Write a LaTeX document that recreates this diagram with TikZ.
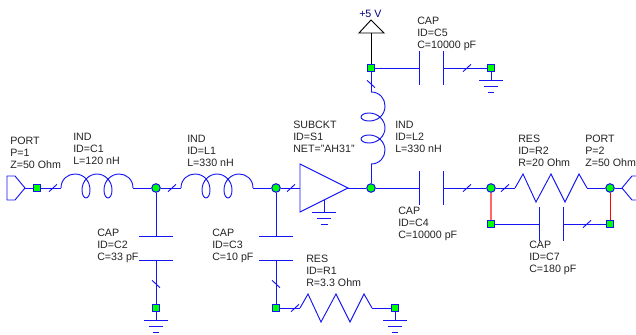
\documentclass[tikz,border=0pt]{standalone}
\usepackage{fontspec}
\setmainfont{Liberation Sans}
\definecolor{wireblue}{RGB}{20,20,245}
\definecolor{labelgray}{RGB}{35,35,35}
\tikzset{
  wire/.style={draw=wireblue, line width=0.7pt},
  stub/.style={draw=black, line width=0.7pt},
  jumper/.style={draw=red, line width=0.75pt},
  lbl/.style={anchor=west, align=left, inner sep=0pt, text=labelgray, font=\fontsize{8}{9}\selectfont},
  dot/.style={circle, draw=wireblue, fill=green, line width=0.8pt, minimum size=6.4pt, inner sep=0pt},
  sq/.style={rectangle, draw=wireblue, fill=green, line width=0.8pt, minimum size=5.8pt, inner sep=0pt},
  coil/.pic={
    \coordinate (-in) at (0,0);
    \coordinate (-out) at (72,0);
    \draw[wire] (0,0) .. controls (0,-9) and (7,-14) .. (14,-14)
      .. controls (23,-14) and (29,-7) .. (29,2)
      .. controls (29,7) and (27,10) .. (25,10)
      .. controls (23,10) and (21,7) .. (21,2)
      .. controls (21,-7) and (28,-14) .. (36,-14)
      .. controls (44,-14) and (51,-7) .. (51,2)
      .. controls (51,7) and (49,10) .. (47,10)
      .. controls (45,10) and (43,7) .. (43,2)
      .. controls (43,-7) and (50,-14) .. (58,-14)
      .. controls (65,-14) and (72,-9) .. (72,0);
  },
  zigzag/.pic={
    \coordinate (-in) at (0,0);
    \coordinate (-out) at (72,0);
    \draw[wire] (0,0) -- (8,-14) -- (21,14) -- (36,-14) -- (50,14) -- (64,-14) -- (72,0);
  },
  plates/.pic={
    \coordinate (-in) at (0,0);
    \coordinate (-out) at (24,0);
    \draw[wire] (0,-17) -- (0,17);
    \draw[wire] (24,-17) -- (24,17);
  },
  earth/.pic={
    \coordinate (-top) at (0,0);
    \draw[wire] (0,0) -- (0,12);
    \draw[wire] (-12,12) -- (12,12);
    \draw[wire] (-7,18) -- (7,18);
    \draw[wire] (-3,24) -- (3,24);
  }
}

\begin{document}
\begin{tikzpicture}[x=0.75pt,y=-0.75pt]
  \useasboundingbox (0,0) rectangle (636,335);

  % parts
  \pic (c1) at (61,188) {coil};
  \pic (l1) at (181,188) {coil};
  \pic[rotate=-90] (l2) at (371,92) {coil};
  \pic (r1) at (300,308) {zigzag};
  \pic (r2) at (515,188) {zigzag};
  \pic (c4) at (419,188) {plates};
  \pic (c5) at (419,68) {plates};
  \pic (c7) at (539,224) {plates};
  \pic[rotate=-90] (c2) at (156,236) {plates};
  \pic[rotate=-90] (c3) at (276,236) {plates};
  \pic at (156,308) {earth};
  \pic at (395,308) {earth};
  \pic at (491,68) {earth};

  % junctions
  \node[sq] (p1) at (37,188) {};
  \node[dot] (n1) at (156,188) {};
  \node[dot] (n2) at (276,188) {};
  \node[dot] (n3) at (371,188) {};
  \node[dot] (n4) at (491,188) {};
  \node[dot] (p2) at (610,188) {};
  \node[sq] (n5) at (491,224) {};
  \node[sq] (n6) at (610,224) {};
  \node[sq] (n7) at (371,68) {};
  \node[sq] (g1) at (491,68) {};
  \node[sq] (g2) at (156,308) {};
  \node[sq] (n8) at (276,308) {};
  \node[sq] (g3) at (395,308) {};

  % ports, amplifier, supply
  \coordinate (t1) at (25,188);
  \coordinate (t2) at (622,188);
  \coordinate (s1in) at (300,188);
  \coordinate (s1out) at (348,188);
  \coordinate (vcc) at (371,33);
  \draw[wire] (7,176) -- (15,176) -- (t1) -- (15,200) -- (7,200) -- cycle;
  \draw[wire] (642,176) -- (632,176) -- (t2) -- (632,200) -- (642,200);
  \draw[wire] (300,164) -- (s1out) -- (300,212) -- cycle;
  \draw[wire] (324,200) -- (324,212);
  \draw[wire] (312,212) -- (336,212);
  \draw[wire] (317,218) -- (331,218);
  \draw[wire] (321,224) -- (328,224);
  \draw[stub] (359,33) -- (371,20) -- (384,33) -- cycle;

  % wires
  \draw[wire] (t1) -- (p1);
  \draw[wire] (p1) -- (c1-in);
  \draw[wire] (c1-out) -- (n1);
  \draw[wire] (n1) -- (l1-in);
  \draw[wire] (l1-out) -- (n2);
  \draw[wire] (n2) -- (s1in);
  \draw[wire] (s1out) -- (n3);
  \draw[wire] (n3) -- (c4-in);
  \draw[wire] (c4-out) -- (n4);
  \draw[wire] (n4) -- (r2-in);
  \draw[wire] (r2-out) -- (p2);
  \draw[wire] (p2) -- (t2);
  \draw[wire] (n5) -- (c7-in);
  \draw[wire] (c7-out) -- (n6);
  \draw[wire] (n7) -- (c5-in);
  \draw[wire] (c5-out) -- (g1);
  \draw[wire] (n7) -- (l2-in);
  \draw[wire] (l2-out) -- (n3);
  \draw[wire] (n1) -- (c2-in);
  \draw[wire] (c2-out) -- (g2);
  \draw[wire] (n2) -- (c3-in);
  \draw[wire] (c3-out) -- (n8);
  \draw[wire] (n8) -- (r1-in);
  \draw[wire] (r1-out) -- (g3);
  \draw[jumper, draw=red!60, line width=1pt] (n4) -- (n5);
  \draw[jumper] (p2) -- (n6);
  \draw[stub] (vcc) -- (n7);

  % slashes
  \foreach \x/\y in {53/188,172/188,291/188,467/188,505/188,467/68,587/224,295/308}
    \draw[wire] (\x-4,\y+3.7) -- (\x+4,\y-3.7);
  \foreach \x/\y in {156/284,276/284,371/84}
    \draw[wire] (\x-4,\y-3.7) -- (\x+4,\y+3.7);

  % labels
  \node[lbl] (lp1) at (10,153) {PORT\\P=1\\Z=50 Ohm};
  \node[lbl] (lc1) at (73,149) {IND\\ID=C1\\L=120 nH};
  \node[lbl] (ll1) at (187,151) {IND\\ID=L1\\L=330 nH};
  \node[lbl] (lc2) at (97,246) {CAP\\ID=C2\\C=33 pF};
  \node[lbl] (lc3) at (212,246) {CAP\\ID=C3\\C=10 pF};
  \node[lbl] (ls1) at (293,137) {SUBCKT\\ID=S1\\NET="AH31"};
  \node[lbl] (lr1) at (306,271) {RES\\ID=R1\\R=3.3 Ohm};
  \node[lbl] (ll2) at (395,137) {IND\\ID=L2\\L=330 nH};
  \node[lbl] (lc5) at (417,34) {CAP\\ID=C5\\C=10000 pF};
  \node[lbl] (lc4) at (398,224) {CAP\\ID=C4\\C=10000 pF};
  \node[lbl] (lr2) at (518,151) {RES\\ID=R2\\R=20 Ohm};
  \node[lbl] (lp2) at (585,151) {PORT\\P=2\\Z=50 Ohm};
  \node[lbl] (lc7) at (529,258) {CAP\\ID=C7\\C=180 pF};
  \node[lbl, text=blue!50!black] (lv) at (359,14) {+5 V};

\end{tikzpicture}
\end{document}
